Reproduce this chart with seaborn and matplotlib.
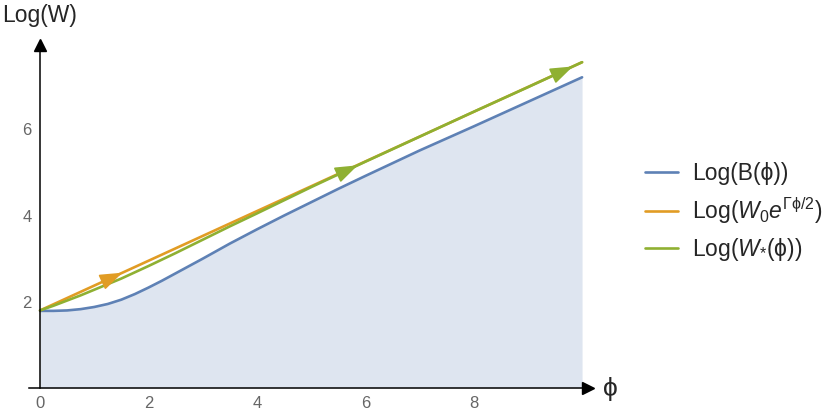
# Log(W) vs phi -- blue bound with shaded region, orange asymptote, green W*
import numpy as np
import matplotlib
matplotlib.use('Agg')
import matplotlib.pyplot as plt
import seaborn as sns

# data
phi_b = [0, 0.25, 0.5, 0.75, 1.0, 1.25, 1.5, 1.75, 2.0, 2.25, 2.5, 3.0, 3.5,
         4.0, 4.5, 5.0, 5.5, 6.0, 7.0, 8.0, 9.0, 10.0]
log_b = [1.79, 1.79, 1.80, 1.83, 1.88, 1.95, 2.05, 2.18, 2.33, 2.49, 2.66, 3.00,
         3.35, 3.68, 4.00, 4.31, 4.62, 4.92, 5.51, 6.07, 6.64, 7.21]

phi_w0 = [0, 10.0]
log_w0 = [1.80, 7.56]

phi_ws = [0, 0.25, 0.5, 0.75, 1.0, 1.5, 2.0, 2.5, 3.0, 3.5, 4.0, 5.0, 6.0,
          7.0, 8.0, 9.0, 10.0]
log_ws = [1.80, 1.91, 2.03, 2.15, 2.28, 2.54, 2.83, 3.13, 3.44, 3.75, 4.05,
          4.66, 5.25, 5.83, 6.41, 6.98, 7.56]

labels = ['Log(B(ϕ))', r'Log($W_0e^{\Gamma\mathrm{\phi}/2}$)', r'Log($W_{*}$(ϕ))']
x_ticks = [0, 2, 4, 6, 8]
y_ticks = [2, 4, 6]

blue = '#5E81B5'
orange = '#E19C24'
green = '#8FB032'

sns.set_style('white')
plt.rcParams['font.family'] = ['Liberation Sans', 'DejaVu Sans']
plt.rcParams['mathtext.fontset'] = 'custom'
plt.rcParams['mathtext.rm'] = 'Liberation Sans'
plt.rcParams['mathtext.it'] = 'Liberation Sans:italic'
plt.rcParams['mathtext.fallback'] = 'stixsans'

fig = plt.figure(figsize=(8.3, 4.2), dpi=100)
xmin, xmax = -0.2, 10.1
ymin, ymax = 0, 7.95
ax = fig.add_axes([29.2 / 830, 32 / 420, 558.3 / 830, 342.6 / 420])

ax.fill_between(phi_b, log_b, 0, color=blue, alpha=0.2, lw=0)
sns.lineplot(x=phi_b, y=log_b, color=blue, lw=1.9, label=labels[0], ax=ax)
sns.lineplot(x=phi_w0, y=log_w0, color=orange, lw=1.9, label=labels[1], ax=ax)
sns.lineplot(x=phi_ws, y=log_ws, color=green, lw=1.9, label=labels[2], ax=ax)

# arrowheads along the curves
def arrow_on(xs, ys, xt, c):
    yt = np.interp(xt, xs, ys)
    xb = xt - 0.3
    yb = np.interp(xb, xs, ys)
    ax.annotate('', xy=(xt, yt), xytext=(xb, yb),
                arrowprops=dict(arrowstyle='-|>,head_length=1.4,head_width=0.5',
                                color=c, lw=1.2, shrinkA=0, shrinkB=0))

arrow_on(phi_w0, log_w0, 1.52, orange)
arrow_on(phi_ws, log_ws, 5.86, green)
arrow_on(phi_ws, log_ws, 9.83, green)

ax.set_xlim(xmin, xmax)
ax.set_ylim(ymin, ymax)
ax.spines['left'].set_position(('data', 0))
ax.spines['right'].set_visible(False)
ax.spines['top'].set_visible(False)
for s in ['left', 'bottom']:
    ax.spines[s].set_linewidth(1.1)
    ax.spines[s].set_color('black')

ax.set_xticks(x_ticks)
ax.set_yticks(y_ticks)
ax.set_xticks(np.arange(0.5, 10, 0.5), minor=True)
ax.set_yticks(np.arange(0.5, 8, 0.5), minor=True)
ax.tick_params(which='major', direction='in', length=5, width=1, color='#444444',
               labelsize=12, labelcolor='#666666', pad=6)
ax.tick_params(which='minor', direction='in', length=3, width=0.8, color='#444444')
ax.set_xlabel('')
ax.set_ylabel('')

# axis arrowheads
ax.plot(1, 0, '>k', ms=8, transform=ax.get_yaxis_transform(), clip_on=False)
ax.plot(0, 1, '^k', ms=8, transform=ax.get_xaxis_transform(), clip_on=False)

fig.text(2 / 830, 1 - 4 / 420, 'Log(W)', fontsize=16.5, va='top', ha='left')
fig.text(603 / 830, 1 - 389 / 420, 'ϕ', fontsize=19, va='center', ha='left')

ax.legend(loc='upper left', bbox_to_anchor=(645 / 830, 1 - 162 / 420),
          bbox_transform=fig.transFigure, frameon=False, fontsize=16.5,
          handlelength=1.45, handletextpad=0.6, labelspacing=0.44, borderpad=0,
          borderaxespad=0)

fig.savefig('out.png', dpi=100)
